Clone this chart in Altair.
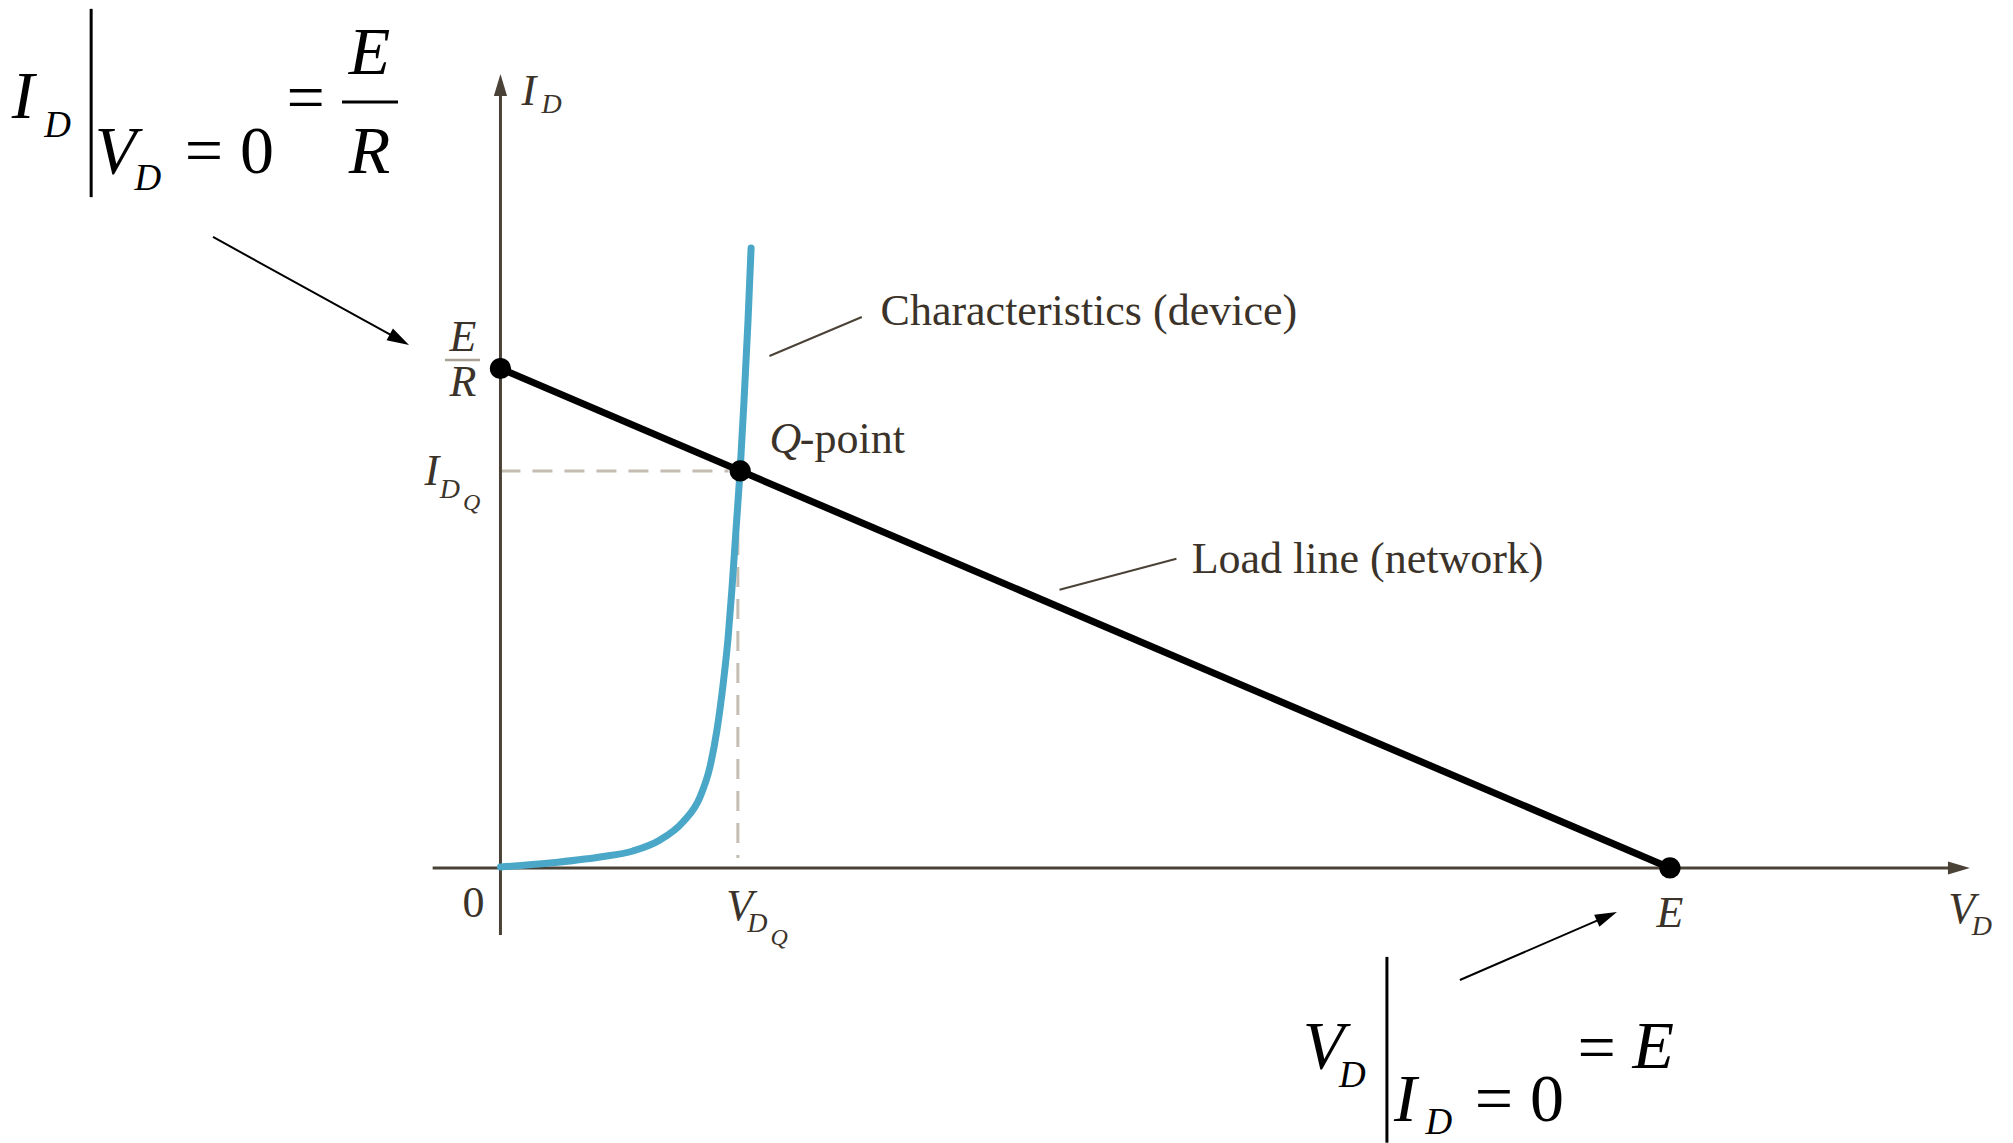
import math
import altair as alt
import pandas as pd

# ---------------- values of the diagram (arbitrary units) ----------------
E = 10.0            # supply voltage  -> V_D intercept
R = 1.0             # resistance      -> I_D intercept = E/R
V_DQ = 2.05         # Q-point voltage
I_DQ = (E - V_DQ) / R

# diode characteristic (V_D, I_D)
diode_v = [0.00, 0.423, 0.851, 1.133, 1.364, 1.560, 1.706, 1.791, 1.851, 1.903, 1.946, 1.980, 2.014, 2.049, 2.083, 2.117, 2.143]
diode_i = [0.02, 0.10, 0.22, 0.34, 0.56, 0.92, 1.42, 2.02, 2.76, 3.66, 4.60, 5.61, 6.77, 7.95, 9.37, 10.97, 12.41]

# load line end points
load_v = [0.0, E]
load_i = [E / R, 0.0]

# axis extents (start, arrow tip)
x_axis = [-0.58, 12.565]
y_axis = [-1.34, 15.896]

# annotation arrows (start x, start y, tip x, tip y)
arrows = [
    [-2.458, 12.633, -0.782, 10.470],   # to E/R
    [8.204, -2.242, 9.547, -0.881],     # to E
]
# leader lines (x, y, x2, y2)
leaders = [
    [2.30, 10.25, 3.09, 11.03],
    [4.78, 5.57, 5.78, 6.19],
]

# text labels: text, x, y, font size, style, align, colour key
labels = [
    # I_D | V_D = 0  = E/R
    ("I", -4.18, 15.02, 68, "italic", "left", "k"),
    ("D", -3.90, 14.64, 37, "italic", "left", "k"),
    ("V", -3.47, 13.91, 68, "italic", "left", "k"),
    ("D", -3.13, 13.57, 37, "italic", "left", "k"),
    ("= 0", -2.70, 13.91, 68, "normal", "left", "k"),
    ("=", -1.83, 14.98, 68, "normal", "left", "k"),
    ("E", -1.12, 15.90, 68, "italic", "center", "k"),
    ("R", -1.12, 13.91, 68, "italic", "center", "k"),
    # V_D | I_D = 0  = E
    ("V", 6.86, -4.00, 68, "italic", "left", "k"),
    ("D", 7.17, -4.38, 37, "italic", "left", "k"),
    ("I", 7.64, -5.06, 68, "italic", "left", "k"),
    ("D", 7.91, -5.33, 37, "italic", "left", "k"),
    ("= 0", 8.33, -5.06, 68, "normal", "left", "k"),
    ("=", 9.21, -4.04, 68, "normal", "left", "k"),
    ("E", 9.68, -4.00, 68, "italic", "left", "k"),
    # axis labels
    ("I", 0.18, 15.28, 44, "italic", "left", "b"),
    ("D", 0.35, 15.12, 28, "italic", "left", "b"),
    ("E", -0.32, 10.35, 44, "italic", "center", "b"),
    ("R", -0.32, 9.45, 44, "italic", "center", "b"),
    ("I", -0.65, 7.67, 44, "italic", "left", "b"),
    ("D", -0.52, 7.41, 28, "italic", "left", "b"),
    ("Q", -0.32, 7.17, 24, "italic", "left", "b"),
    ("0", -0.23, -0.98, 44, "normal", "center", "b"),
    ("V", 1.93, -1.04, 44, "italic", "left", "b"),
    ("D", 2.11, -1.28, 28, "italic", "left", "b"),
    ("Q", 2.31, -1.54, 24, "italic", "left", "b"),
    ("E", E, -1.18, 44, "italic", "center", "b"),
    ("V", 12.38, -1.10, 44, "italic", "left", "b"),
    ("D", 12.58, -1.34, 28, "italic", "left", "b"),
    ("Q", 2.30, 8.31, 44, "italic", "left", "b"),
    ("-point", 2.56, 8.31, 44, "normal", "left", "b"),
    ("Characteristics (device)", 3.25, 10.87, 44, "normal", "left", "b"),
    ("Load line (network)", 5.91, 5.91, 44, "normal", "left", "b"),
]

# ---------------- scales / styling ----------------
W, H = 1997, 1135
X_DOM = [-4.211, 12.865]
Y_DOM = [-5.506, 17.217]
PX = W / (X_DOM[1] - X_DOM[0])
PY = H / (Y_DOM[1] - Y_DOM[0])
FONT = "Liberation Serif"
AXIS_C = "#4b4237"
TEXT_C = {"k": "#000000", "b": "#3b3329"}
BLUE = "#4aa7c7"
DASH_C = "#c4bdb2"
HEAD = "M-1,-0.6L1,0L-1,0.6Z"
HEAD_LEN = 22

xs = alt.Scale(domain=X_DOM, nice=False, zero=False)
ys = alt.Scale(domain=Y_DOM, nice=False, zero=False)


def X(f):
    return alt.X(f, type="quantitative", scale=xs, axis=None)


def Y(f):
    return alt.Y(f, type="quantitative", scale=ys, axis=None)


def head(x0, y0, x1, y1):
    dxp = (x1 - x0) * PX
    dyp = -(y1 - y0) * PY
    n = math.hypot(dxp, dyp)
    ux, uy = dxp / n, dyp / n
    ang = math.degrees(math.atan2(uy, ux)) % 360
    cx = x1 - ux * HEAD_LEN / 2 / PX
    cy = y1 + uy * HEAD_LEN / 2 / PY
    return cx, cy, ang


# ---------------- tables ----------------
seg_rows = []
head_rows = []
# axes
cx, cy, a = head(x_axis[0], 0, x_axis[1], 0)
seg_rows.append(dict(x=x_axis[0], y=0, x2=cx, y2=cy, c=AXIS_C, w=3))
head_rows.append(dict(x=cx, y=cy, a=a, c=AXIS_C))
cx, cy, a = head(0, y_axis[0], 0, y_axis[1])
seg_rows.append(dict(x=0, y=y_axis[0], x2=cx, y2=cy, c=AXIS_C, w=3))
head_rows.append(dict(x=cx, y=cy, a=a, c=AXIS_C))
# annotation arrows
for x0, y0, x1, y1 in arrows:
    cx, cy, a = head(x0, y0, x1, y1)
    seg_rows.append(dict(x=x0, y=y0, x2=cx, y2=cy, c="#000000", w=2))
    head_rows.append(dict(x=cx, y=cy, a=a, c="#000000"))
# leaders
for x0, y0, x1, y1 in leaders:
    seg_rows.append(dict(x=x0, y=y0, x2=x1, y2=y1, c=AXIS_C, w=2))
# formula bars
seg_rows.append(dict(x=-3.50, y=17.20, x2=-3.50, y2=13.43, c="#000000", w=3))
seg_rows.append(dict(x=-1.355, y=15.335, x2=-0.876, y2=15.335, c="#000000", w=3))
seg_rows.append(dict(x=7.58, y=-1.78, x2=7.58, y2=-5.50, c="#000000", w=3))
seg_rows.append(dict(x=-0.475, y=10.17, x2=-0.175, y2=10.17, c="#a9a195", w=2.5))

segs = pd.DataFrame(seg_rows)
heads = pd.DataFrame(head_rows)
dashes = pd.DataFrame([
    dict(x=0, y=I_DQ, x2=V_DQ - 0.1, y2=I_DQ),
    dict(x=V_DQ - 0.02, y=I_DQ, x2=V_DQ - 0.02, y2=0.2),
])
diode = pd.DataFrame({"v": diode_v, "i": diode_i})
load = pd.DataFrame({"v": load_v, "i": load_i})
dots = pd.DataFrame({"v": [0.0, V_DQ, E], "i": [E / R, I_DQ, 0.0]})
lab = pd.DataFrame(labels, columns=["t", "x", "y", "s", "style", "align", "ck"])
lab["c"] = lab["ck"].map(TEXT_C)

# ---------------- layers ----------------
dash_layer = alt.Chart(dashes).mark_rule(color=DASH_C, strokeWidth=3, strokeDash=[20, 12]).encode(
    x=X("x"), y=Y("y"), x2="x2", y2="y2")

seg_layer = alt.Chart(segs).mark_rule().encode(
    x=X("x"), y=Y("y"), x2="x2", y2="y2",
    color=alt.Color("c:N", scale=None),
    strokeWidth=alt.StrokeWidth("w:Q", scale=None))

head_layer = alt.Chart(heads).mark_point(shape=HEAD, filled=True, size=HEAD_LEN ** 2, opacity=1).encode(
    x=X("x"), y=Y("y"),
    angle=alt.Angle("a:Q", scale=None),
    color=alt.Color("c:N", scale=None))

diode_layer = alt.Chart(diode).mark_line(color=BLUE, strokeWidth=7, interpolate="monotone", strokeCap="round").encode(
    x=X("v"), y=Y("i"), order="v:Q")

load_layer = alt.Chart(load).mark_line(color="#000000", strokeWidth=7).encode(x=X("v"), y=Y("i"))

dot_layer = alt.Chart(dots).mark_circle(color="#000000", size=450, opacity=1).encode(x=X("v"), y=Y("i"))


def text_layer(style, align):
    df = lab[(lab["style"] == style) & (lab["align"] == align)]
    return alt.Chart(df).mark_text(font=FONT, fontStyle=style, align=align, baseline="alphabetic").encode(
        x=X("x"), y=Y("y"), text="t:N",
        size=alt.Size("s:Q", scale=None),
        color=alt.Color("c:N", scale=None))


chart = alt.layer(
    dash_layer, seg_layer, head_layer, diode_layer, load_layer, dot_layer,
    text_layer("italic", "left"), text_layer("italic", "center"),
    text_layer("normal", "left"), text_layer("normal", "center"),
).properties(width=W, height=H, padding=0, autosize="none", background="white"
).configure_view(strokeWidth=0)

chart.save("out.html", embed_options={"renderer": "svg", "actions": False})
